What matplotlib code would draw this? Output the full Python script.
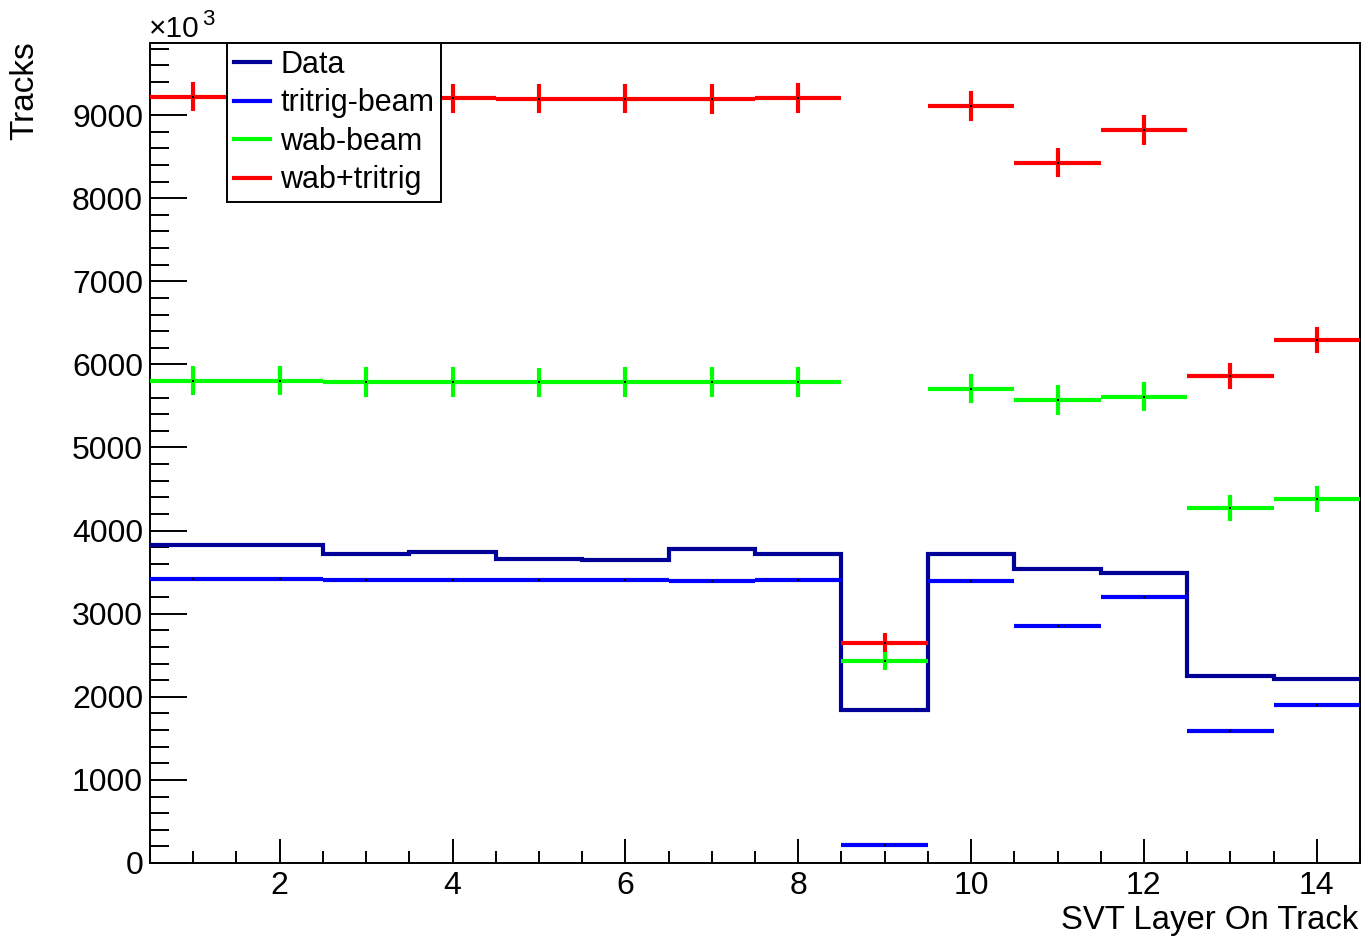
import numpy as np
import matplotlib
matplotlib.use("Agg")
import matplotlib.pyplot as plt
from matplotlib.ticker import MultipleLocator
from matplotlib.lines import Line2D

plt.rcParams['font.family'] = ['Liberation Sans', 'DejaVu Sans']

# ---- data (values in units of 10^3 tracks) ----
layers = [1, 2, 3, 4, 5, 6, 7, 8, 9, 10, 11, 12, 13, 14]
data = [3827, 3827, 3718, 3739, 3655, 3646, 3779, 3718, 1841, 3718, 3534, 3486, 2250, 2218]
tritrig_beam = [3414, 3414, 3406, 3406, 3406, 3402, 3398, 3406, 217, 3397, 2848, 3201, 1592, 1899]
wab_beam = [5804, 5804, 5788, 5788, 5784, 5788, 5788, 5788, 2431, 5708, 5572, 5611, 4268, 4384]
wab_beam_err = [178, 178, 178, 178, 178, 178, 178, 178, 114, 177, 177, 177, 156, 156]
wab_tritrig = [9220, 9210, 9200, 9200, 9196, 9196, 9192, 9205, 2651, 9110, 8427, 8821, 5860, 6294]
wab_tritrig_err = [177, 177, 177, 177, 177, 177, 177, 177, 113, 178, 175, 177, 156, 156]
labels = ["Data", "tritrig-beam", "wab-beam", "wab+tritrig"]
colors = ["#000099", "#0000ff", "#00ff00", "#ff0000"]

W, H = 1362, 939
fig = plt.figure(figsize=(W / 100, H / 100), dpi=100)
ax = fig.add_axes([150 / W, (H - 863) / H, (1360 - 150) / W, (863 - 43) / H])

x = np.array(layers, dtype=float)
edges = np.append(x - 0.5, x[-1] + 0.5)
lw = 3.0

# Data as step histogram
ax.stairs(data, edges, baseline=None, color=colors[0], lw=lw, zorder=3)

# tritrig-beam: horizontal bin lines
ax.errorbar(x, tritrig_beam, xerr=0.5, fmt='none', ecolor=colors[1], elinewidth=lw, capsize=0, zorder=4)
# wab-beam
ax.errorbar(x, wab_beam, xerr=0.5, yerr=wab_beam_err, fmt='none', ecolor=colors[2], elinewidth=lw, capsize=0, zorder=4)
# wab+tritrig
ax.errorbar(x, wab_tritrig, xerr=0.5, yerr=wab_tritrig_err, fmt='none', ecolor=colors[3], elinewidth=lw, capsize=0, zorder=4)
# small black markers at bin centres
for vals in (tritrig_beam, wab_beam, wab_tritrig):
    ax.plot(x, vals, 's', color='black', ms=1.6, mew=0, zorder=5)

ax.set_xlim(0.5, 14.5)
ax.set_ylim(0, 9867)

ax.xaxis.set_major_locator(MultipleLocator(2))
ax.xaxis.set_minor_locator(MultipleLocator(0.5))
ax.yaxis.set_major_locator(MultipleLocator(1000))
ax.yaxis.set_minor_locator(MultipleLocator(200))
ax.tick_params(axis='both', which='both', direction='in', top=False, right=False,
               width=1.4, colors='black', labelsize=23)
ax.tick_params(axis='y', which='major', length=26.5, pad=5)
ax.tick_params(axis='y', which='minor', length=13.5)
ax.tick_params(axis='x', which='major', length=17, pad=6)
ax.tick_params(axis='x', which='minor', length=8.5)
for s in ax.spines.values():
    s.set_linewidth(1.4)
    s.set_color('black')

# axis titles
fig.text(1358 / W, 1 - 920 / H, "SVT Layer On Track", ha='right', va='center', fontsize=23.7)
fig.text(25 / W, 1 - 41 / H, "Tracks", ha='center', va='top', rotation=90, fontsize=24)
# exponent label
fig.text(149 / W, 1 - 37 / H, "\u00d710", ha='left', va='baseline', fontsize=21.5)
fig.text(202 / W, 1 - 25 / H, "3", ha='left', va='baseline', fontsize=16)

# legend
handles = [Line2D([], [], color=c, lw=lw) for c in colors]
leg = ax.legend(handles, labels, loc='upper left', bbox_to_anchor=(227 / W, 1 - 43 / H),
                bbox_transform=fig.transFigure, fontsize=22, frameon=True, fancybox=False,
                framealpha=1, edgecolor='black', borderpad=0.22, handlelength=1.2,
                handletextpad=0.33, labelspacing=0.28, borderaxespad=0)
leg.get_frame().set_linewidth(1.4)
leg.set_zorder(10)

fig.savefig("out.png", dpi=100)
